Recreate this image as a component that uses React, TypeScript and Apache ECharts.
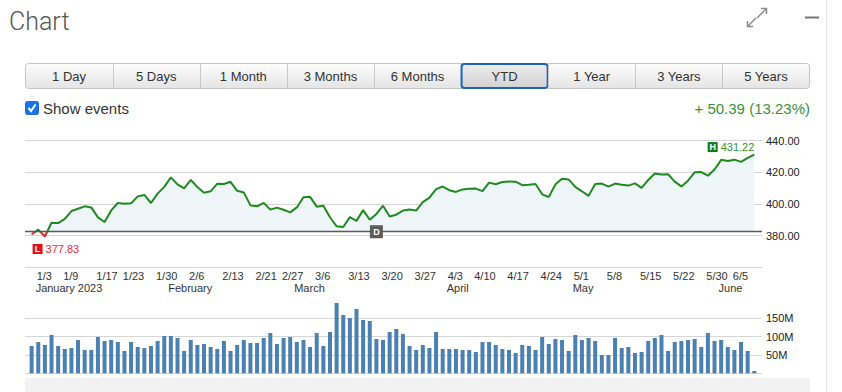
import React, { useEffect, useRef } from "react";
import * as echarts from "echarts";

// ---- categories: trading days (Jan 3 – Jun 9, 2023) ----
const daysJan = ["1/3","1/4","1/5","1/6","1/9","1/10","1/11","1/12","1/13","1/17","1/18","1/19","1/20","1/23","1/24","1/25","1/26","1/27","1/30","1/31"];
const daysFeb = ["2/1","2/2","2/3","2/6","2/7","2/8","2/9","2/10","2/13","2/14","2/15","2/16","2/17","2/21","2/22","2/23","2/24","2/27","2/28"];
const daysMar = ["3/1","3/2","3/3","3/6","3/7","3/8","3/9","3/10","3/13","3/14","3/15","3/16","3/17","3/20","3/21","3/22","3/23","3/24","3/27","3/28","3/29","3/30","3/31"];
const daysApr = ["4/3","4/4","4/5","4/6","4/10","4/11","4/12","4/13","4/14","4/17","4/18","4/19","4/20","4/21","4/24","4/25","4/26","4/27","4/28"];
const daysMay = ["5/1","5/2","5/3","5/4","5/5","5/8","5/9","5/10","5/11","5/12","5/15","5/16","5/17","5/18","5/19","5/22","5/23","5/24","5/25","5/26","5/30","5/31"];
const daysJun = ["6/1","6/2","6/5","6/6","6/7","6/8","6/9"];

// ---- closing prices ----
const pricesJan = [380.8,383.8,379.4,388.1,387.9,390.6,395.5,397.0,398.5,397.8,391.5,388.6,395.9,400.6,400.2,400.4,404.8,405.7,400.6,406.5];
const pricesFeb = [410.8,416.8,412.4,409.8,415.2,410.7,407.1,408.0,412.8,412.6,414.0,408.3,407.3,399.1,398.5,400.7,396.4,397.7,396.3];
const pricesMar = [394.7,397.8,404.2,404.5,398.3,398.9,391.6,385.9,385.4,391.7,389.3,396.1,390.0,393.7,398.9,392.1,393.2,395.8,396.5,395.8,401.2,404.0,409.4];
const pricesApr = [411.0,408.7,407.6,409.2,409.6,409.7,408.1,413.5,412.5,413.9,414.2,414.1,411.9,412.2,412.6,406.1,404.4,412.4,415.9];
const pricesMay = [415.5,410.8,408.0,405.1,412.6,412.9,410.9,412.9,412.1,411.6,413.0,410.2,415.2,419.2,418.6,418.8,414.1,411.1,414.7,420.0,420.2,417.9];
const pricesJun = [421.8,427.9,427.1,428.0,426.6,429.1,431.22];

// ---- volumes (millions) ----
const volumesJan = [74.5,85.4,77.2,104.5,74.5,66.3,69.0,90.8,63.6,63.6,99.0,88.1,90.8,85.4,60.8,85.4,71.7,69.0,74.5,88.1];
const volumesFeb = [101.7,101.7,96.3,60.8,90.8,77.2,79.9,71.7,66.3,88.1,60.8,77.2,90.8,82.6,82.6,96.3,109.9,79.9,96.3];
const volumesMar = [99.0,85.4,90.8,71.7,109.9,74.5,112.7,191.8,159.0,150.8,175.4,145.4,142.7,93.6,90.8,112.7,120.8,107.2,74.5,63.6,77.2,69.0,112.7];
const volumesApr = [66.3,66.3,66.3,63.6,63.6,58.1,85.4,85.4,77.2,66.3,63.6,55.4,77.2,74.5,63.6,99.0,79.9,93.6,90.8];
const volumesMay = [60.8,104.5,90.8,96.3,88.1,49.9,49.9,96.3,69.0,71.7,55.4,58.1,88.1,96.3,104.5,60.8,85.4,88.1,90.8,93.6,71.7,109.9];
const volumesJun = [88.1,90.8,71.7,63.6,85.4,60.8,6.4];

// ---- tick labels ----
const dayTickLabels = ["1/3","1/9","1/17","1/23","1/30","2/6","2/13","2/21","2/27","3/6","3/13","3/20","3/27","4/3","4/10","4/17","4/24","5/1","5/8","5/15","5/22","5/30","6/5"];
const monthTickDays = ["1/3","2/1","3/1","4/3","5/1","6/1"];
const monthTickNames = ["January 2023","February","March","April","May","June"];
const priceAxisTicks = [360, 380, 400, 420, 440];
const volumeAxisTicks = [0, 50, 100, 150, 200];

// ---- events / summary ----
const previousClose = 382.43;
const periodLow = 377.83;
const periodLowDay = "1/5";
const periodHigh = 431.22;
const dividendDay = "3/20";
const changeText = "+ 50.39 (13.23%)";
const rangeButtons = ["1 Day","5 Days","1 Month","3 Months","6 Months","YTD","1 Year","3 Years","5 Years"];
const selectedRange = "YTD";

const tradingDays = [...daysJan, ...daysFeb, ...daysMar, ...daysApr, ...daysMay, ...daysJun];
const prices = [...pricesJan, ...pricesFeb, ...pricesMar, ...pricesApr, ...pricesMay, ...pricesJun];
const volumes = [...volumesJan, ...volumesFeb, ...volumesMar, ...volumesApr, ...volumesMay, ...volumesJun];

const FONT = "'Liberation Sans', Arial, sans-serif";
const GREEN = "#1f8a1f";
const RED = "#e3262f";
const GRID_COLOR = "#d6d6d6";

const xMin = -1;
const xMax = 110.16;

function labelAt(value: number, list: string[], names?: string[]) {
  const i = Math.round(value);
  if (Math.abs(value - i) > 1e-6) return "";
  const d = tradingDays[i];
  const k = list.indexOf(d);
  if (k < 0) return "";
  return names ? names[k] : d;
}

function buildGraphics() {
  const els: any[] = [];
  els.push({
    type: "text", x: 9, y: 21,
    style: { text: "Chart", fontSize: 25, fontWeight: 300, fontFamily: "Roboto, 'Liberation Sans', sans-serif", fill: "#555", verticalAlign: "middle", align: "left" },
  });
  const ic = { stroke: "#8a8a8a", lineWidth: 1.5, fill: "none" };
  els.push({ type: "line", shape: { x1: 757, y1: 18, x2: 766.5, y2: 8.5 }, style: ic });
  els.push({ type: "polyline", shape: { points: [[761, 8.5], [766.5, 8.5], [766.5, 14]] }, style: ic });
  els.push({ type: "line", shape: { x1: 756, y1: 18, x2: 747.5, y2: 26.5 }, style: ic });
  els.push({ type: "polyline", shape: { points: [[747.5, 21], [747.5, 26.5], [753, 26.5]] }, style: ic });
  els.push({ type: "line", shape: { x1: 805, y1: 17.5, x2: 819, y2: 17.5 }, style: { stroke: "#777", lineWidth: 2 } });
  els.push({ type: "line", shape: { x1: 826.5, y1: 0, x2: 826.5, y2: 392 }, style: { stroke: "#e4e4e4", lineWidth: 1 } });

  const bx0 = 25.5, bx1 = 809.5, by = 63.5, bh = 25;
  const bw = (bx1 - bx0) / rangeButtons.length;
  els.push({
    type: "rect", shape: { x: bx0, y: by, width: bx1 - bx0, height: bh, r: 3 },
    style: {
      fill: new echarts.graphic.LinearGradient(0, 0, 0, 1, [{ offset: 0, color: "#fdfdfd" }, { offset: 1, color: "#e4e4e4" }]),
      stroke: "#c4c4c4", lineWidth: 1,
    },
  });
  rangeButtons.forEach((label, k) => {
    const x = bx0 + k * bw;
    if (k > 0) {
      els.push({ type: "line", shape: { x1: Math.round(x) + 0.5, y1: by, x2: Math.round(x) + 0.5, y2: by + bh }, style: { stroke: "#c8c8c8", lineWidth: 1 } });
    }
    if (label === selectedRange) {
      els.push({
        type: "rect", shape: { x: x + 0.5, y: by + 0.5, width: bw - 1, height: bh - 1, r: 3 },
        style: {
          fill: new echarts.graphic.LinearGradient(0, 0, 0, 1, [{ offset: 0, color: "#ededed" }, { offset: 1, color: "#d2d2d2" }]),
          stroke: "#1a62c8", lineWidth: 2,
        },
      });
    }
    els.push({
      type: "text", x: x + bw / 2, y: by + bh / 2 + 0.5,
      style: { text: label, fontSize: 13, fontFamily: FONT, fill: "#333", align: "center", verticalAlign: "middle" },
    });
  });

  els.push({ type: "rect", shape: { x: 25.5, y: 101.5, width: 13, height: 13, r: 2 }, style: { fill: "#1a73e8", stroke: "#1a6ad8", lineWidth: 1 } });
  els.push({ type: "polyline", shape: { points: [[28.5, 108], [31, 111], [35.5, 104.5]] }, style: { stroke: "#fff", lineWidth: 2, fill: "none" } });
  els.push({
    type: "text", x: 43, y: 108.5,
    style: { text: "Show events", fontSize: 15, fontFamily: FONT, fill: "#333", align: "left", verticalAlign: "middle" },
  });
  els.push({
    type: "text", x: 810, y: 108.5,
    style: { text: changeText, fontSize: 15, fontFamily: FONT, fill: "#37923a", align: "right", verticalAlign: "middle" },
  });
  els.push({ type: "rect", shape: { x: 25, y: 378, width: 785, height: 14 }, style: { fill: "#f2f2f2" } });
  return els;
}

export default function App() {
  const ref = useRef<HTMLDivElement>(null);
  useEffect(() => {
    if (!ref.current) return;
    const chart = echarts.init(ref.current, undefined, { renderer: "svg" });
    const lowIndex = tradingDays.indexOf(periodLowDay);
    const lastIndex = tradingDays.length - 1;
    const divIndex = tradingDays.indexOf(dividendDay);
    const pMin = priceAxisTicks[0];
    const pMax = priceAxisTicks[priceAxisTicks.length - 1];

    const option: any = {
      animation: false,
      textStyle: { fontFamily: FONT },
      grid: [
        { left: 25, right: 80, top: 140.7, height: 126.5 },
        { left: 25, right: 80, top: 300, height: 73.3 },
      ],
      xAxis: [
        {
          type: "value", gridIndex: 0, min: xMin, max: xMax, interval: 1,
          axisLine: { show: false }, axisTick: { show: false }, splitLine: { show: false },
          axisLabel: {
            show: true, margin: 3, align: "left", padding: [0, 0, 0, 5], fontSize: 11, color: "#333",
            formatter: (v: number) => labelAt(v, dayTickLabels),
          },
        },
        {
          type: "value", gridIndex: 0, position: "bottom", min: xMin, max: xMax, interval: 1,
          axisLine: { show: false }, axisTick: { show: false }, splitLine: { show: false },
          axisLabel: {
            show: true, margin: 15.5, align: "left", padding: [0, 0, 0, 4], fontSize: 11, color: "#333",
            formatter: (v: number) => labelAt(v, monthTickDays, monthTickNames),
          },
        },
        {
          type: "value", gridIndex: 1, min: xMin, max: xMax,
          axisLine: { show: false }, axisTick: { show: false }, splitLine: { show: false }, axisLabel: { show: false },
        },
      ],
      yAxis: [
        {
          type: "value", gridIndex: 0, position: "right",
          min: pMin, max: pMax, interval: 20,
          axisLine: { show: false }, axisTick: { show: false },
          splitLine: { show: true, lineStyle: { color: GRID_COLOR, width: 1 } },
          axisLabel: {
            margin: 4, fontSize: 11, color: "#222",
            formatter: (v: number) => (v === pMin ? "" : v.toFixed(2)),
          },
        },
        {
          type: "value", gridIndex: 1, position: "right",
          min: volumeAxisTicks[0], max: volumeAxisTicks[volumeAxisTicks.length - 1], interval: 50,
          axisLine: { show: false }, axisTick: { show: false },
          splitLine: {
            show: true,
            lineStyle: { color: [GRID_COLOR, GRID_COLOR, GRID_COLOR, GRID_COLOR, "rgba(0,0,0,0)"], width: 1 },
          },
          axisLabel: {
            margin: 4, fontSize: 11, color: "#222",
            formatter: (v: number) => (v === 0 || v === volumeAxisTicks[volumeAxisTicks.length - 1] ? "" : v + "M"),
          },
        },
      ],
      visualMap: {
        type: "piecewise", show: false, seriesIndex: 0, dimension: 1,
        pieces: [
          { gte: pMin - 100, lt: previousClose, color: RED },
          { gte: previousClose, lte: pMax + 100, color: GREEN },
        ],
      },
      series: [
        {
          type: "line", xAxisIndex: 0, yAxisIndex: 0,
          data: prices.map((v, i) => [i, v]),
          showSymbol: false, symbol: "none",
          lineStyle: { width: 2 },
          areaStyle: { color: "#eef6fa", opacity: 1, origin: previousClose },
          markLine: {
            silent: true, symbol: "none", label: { show: false },
            lineStyle: { color: "#5a5a5a", width: 1.3, type: "solid" },
            data: [{ yAxis: previousClose }],
          },
          markPoint: {
            silent: true,
            data: [
              {
                coord: [divIndex, previousClose], symbol: "rect", symbolSize: [13, 13],
                itemStyle: { color: "#5c5c5c" },
                label: { show: true, position: "inside", formatter: "D", color: "#fff", fontSize: 9, fontWeight: "bold" },
              },
              {
                coord: [lastIndex, prices[lastIndex]], symbol: "circle", symbolSize: 0,
                itemStyle: { color: "rgba(0,0,0,0)" },
                label: {
                  show: true, position: "top", align: "right", distance: 2,
                  formatter: "{b|H}{v|" + periodHigh.toFixed(2) + "}",
                  rich: {
                    b: { backgroundColor: "#127a12", color: "#fff", fontSize: 9, fontWeight: "bold", width: 10, height: 10, lineHeight: 10, align: "center" },
                    v: { color: "#2f962f", fontSize: 11, padding: [0, 0, 0, 3] },
                  },
                },
              },
              {
                coord: [lowIndex, prices[lowIndex]], symbol: "circle", symbolSize: 0,
                itemStyle: { color: "rgba(0,0,0,0)" },
                label: {
                  show: true, position: "bottom", align: "left", distance: 7, offset: [-12.3, 0],
                  formatter: "{b|L}{v|" + periodLow.toFixed(2) + "}",
                  rich: {
                    b: { backgroundColor: "#e8101e", color: "#fff", fontSize: 9, fontWeight: "bold", width: 10, height: 10, lineHeight: 10, align: "center" },
                    v: { color: "#ee2a36", fontSize: 11, padding: [0, 0, 0, 3] },
                  },
                },
              },
            ],
          },
          z: 3,
        },
        {
          type: "bar", xAxisIndex: 2, yAxisIndex: 1,
          data: volumes.map((v, i) => [i, v]),
          barWidth: 4,
          itemStyle: { color: "#4a80b2" },
        },
      ],
      graphic: buildGraphics(),
    };
    chart.setOption(option);
    return () => chart.dispose();
  }, []);
  return <div ref={ref} style={{ position: "absolute", left: 0, top: 0, width: 842, height: 392, background: "#fff" }} />;
}
